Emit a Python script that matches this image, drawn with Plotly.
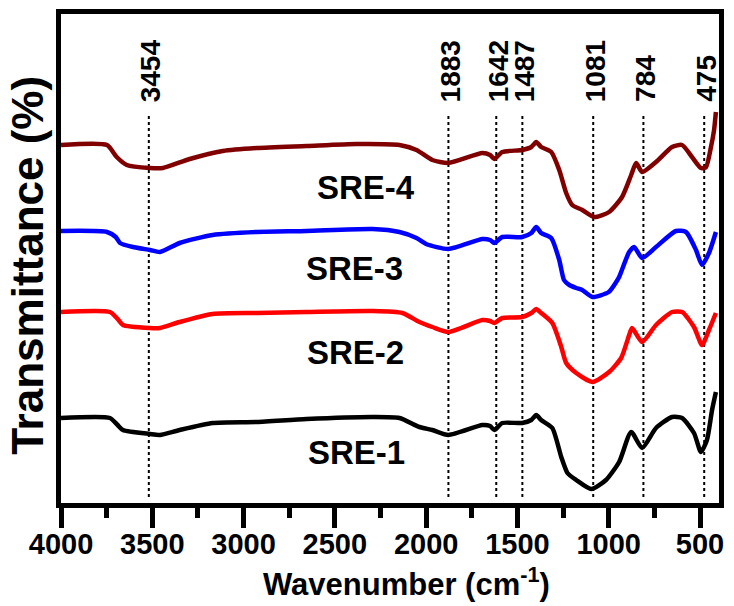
import plotly.graph_objects as go

# ---------------- data ----------------
wn_sre4 = [4000, 3748, 3695, 3640, 3513, 3442, 3295, 3114, 2928, 2655, 2381, 2146, 2053, 1966, 1878,
           1692, 1650, 1627, 1583, 1474, 1424, 1397, 1370, 1315, 1271, 1233, 1200, 1145, 1080, 998,
           927, 877, 850, 817, 741, 653, 598, 544, 495, 467, 440, 423, 413]
t_sre4 = [73.4, 73.4, 71.0, 69.4, 68.8, 68.8, 70.6, 72.2, 72.8, 73.2, 73.6, 73.4, 72.4, 70.4, 69.8,
          71.8, 71.4, 70.6, 72.0, 72.4, 73.0, 74.0, 73.0, 72.0, 68.4, 63.8, 61.4, 60.4, 59.0, 60.0,
          63.0, 67.4, 69.8, 68.0, 70.0, 73.0, 73.4, 71.0, 68.8, 69.0, 73.0, 76.4, 80.0]

wn_sre3 = [4000, 3748, 3700, 3677, 3606, 3513, 3458, 3350, 3169, 2928, 2655, 2294, 2146, 2053, 2000,
           1878, 1692, 1650, 1627, 1583, 1474, 1424, 1397, 1370, 1315, 1271, 1245, 1216, 1178, 1145,
           1089, 1000, 959, 943, 888, 861, 817, 741, 632, 577, 522, 489, 451, 413]
t_sre3 = [56.2, 56.0, 55.0, 53.8, 53.0, 52.4, 52.0, 53.8, 55.4, 56.0, 56.2, 56.6, 56.0, 54.8, 53.6,
          52.6, 54.6, 54.4, 53.8, 55.0, 55.0, 55.8, 57.0, 55.8, 54.8, 50.4, 46.4, 45.4, 44.8, 44.4,
          43.0, 44.0, 46.0, 47.0, 52.0, 53.0, 50.8, 53.0, 56.2, 56.0, 52.4, 49.4, 51.8, 56.0]

wn_sre2 = [4000, 3732, 3690, 3661, 3513, 3458, 3350, 3169, 2928, 2655, 2294, 2130, 2037, 1966, 1878,
           1692, 1650, 1627, 1583, 1474, 1424, 1397, 1370, 1309, 1260, 1233, 1178, 1089, 998, 932,
           888, 872, 817, 741, 653, 598, 533, 489, 451, 413]
t_sre2 = [40.0, 40.0, 38.6, 37.4, 36.8, 36.8, 38.0, 39.6, 39.8, 40.0, 40.2, 39.8, 38.0, 37.0, 36.0,
          38.4, 38.2, 37.8, 38.8, 39.0, 39.8, 40.6, 39.8, 37.8, 33.0, 29.8, 27.8, 26.0, 28.0, 30.8,
          35.4, 36.8, 34.0, 37.4, 40.0, 40.0, 37.0, 33.4, 36.4, 39.8]

wn_sre1 = [4000, 3732, 3690, 3661, 3513, 3458, 3350, 3169, 2928, 2655, 2294, 2146, 2037, 1966, 1878,
           1692, 1650, 1627, 1583, 1474, 1424, 1397, 1370, 1309, 1260, 1226, 1178, 1095, 1015, 943,
           877, 817, 741, 653, 598, 533, 495, 462, 434, 413]
t_sre1 = [18.8, 18.8, 17.4, 16.4, 15.6, 15.4, 16.4, 17.8, 18.0, 18.6, 19.0, 18.8, 17.0, 16.4, 15.4,
          17.4, 17.2, 16.4, 17.8, 17.8, 18.4, 19.4, 18.4, 16.8, 11.0, 7.8, 6.4, 4.6, 6.4, 10.0,
          16.0, 12.8, 16.8, 19.0, 18.8, 15.8, 12.0, 14.4, 20.4, 24.0]

series_names = ["SRE-4", "SRE-3", "SRE-2", "SRE-1"]
series_colors = ["#800000", "#0000FF", "#FF0000", "#000000"]
label_wn = [2327, 2392, 2387, 2381]
label_t = [65.0, 48.8, 32.0, 12.0]

peak_line_wn = [3519, 1878, 1616, 1473, 1085, 810, 477]
peak_labels = ["3454", "1883", "1642", "1487", "1081", "784", "475"]

x_ticks = [4000, 3500, 3000, 2500, 2000, 1500, 1000, 500]

# ---------------- figure ----------------
FONT = "Liberation Sans, Arial, sans-serif"
fig = go.Figure()

line_bottom, line_top = 3.0, 79.5
for xv in peak_line_wn:
    fig.add_trace(go.Scatter(x=[xv, xv], y=[line_bottom, line_top], mode="lines",
                             line=dict(color="black", width=2, dash="dot"),
                             hoverinfo="skip", showlegend=False))

all_x = [wn_sre4, wn_sre3, wn_sre2, wn_sre1]
all_y = [t_sre4, t_sre3, t_sre2, t_sre1]
for xs, ys, name, col in zip(all_x, all_y, series_names, series_colors):
    fig.add_trace(go.Scatter(x=xs, y=ys, mode="lines", name=name,
                             line=dict(color=col, width=4.5, shape="spline", smoothing=0.6),
                             showlegend=False))

for name, xv, yv in zip(series_names, label_wn, label_t):
    fig.add_annotation(x=xv, y=yv, text=name, showarrow=False, xanchor="center", yanchor="middle",
                       font=dict(family=FONT, size=33, color="black", weight="bold"))

for xv, lab in zip(peak_line_wn, peak_labels):
    fig.add_annotation(x=xv, y=81.6, text=lab, showarrow=False, textangle=-90,
                       xanchor="center", yanchor="bottom", xshift=2,
                       font=dict(family=FONT, size=28, color="black", weight="bold"))

# axis titles as annotations
fig.add_annotation(xref="paper", yref="paper", x=0.525, y=0, yshift=-101, yanchor="bottom",
                   text="Wavenumber (cm<sup>-1</sup>)", showarrow=False,
                   font=dict(family=FONT, size=31, color="black", weight="bold"))
fig.add_annotation(xref="paper", yref="paper", x=0, xshift=-33, xanchor="center",
                   y=0.485, yanchor="middle", textangle=-90,
                   text="Transmittance (%)", showarrow=False,
                   font=dict(family=FONT, size=44, color="black", weight="bold"))

fig.update_xaxes(range=[4000, 396], tickvals=x_ticks, ticktext=[str(v) for v in x_ticks],
                 ticks="outside", ticklen=20, tickwidth=5, tickcolor="black",
                 minor=dict(dtick=250, ticks="outside", ticklen=10, tickwidth=5, tickcolor="black"),
                 showline=True, linewidth=5, linecolor="black", mirror=True,
                 showgrid=False, zeroline=False, automargin=False, ticklabelstandoff=-9,
                 tickfont=dict(family=FONT, size=29, color="black", weight="bold"))
fig.update_yaxes(range=[1.8, 99.6], showticklabels=False, ticks="",
                 showline=True, linewidth=5, linecolor="black", mirror=True,
                 showgrid=False, zeroline=False, automargin=False)

fig.update_layout(width=734, height=606, margin=dict(l=61, r=15, t=14, b=103),
                  paper_bgcolor="white", plot_bgcolor="white", showlegend=False)

fig.write_html("out.html", config={"displayModeBar": False},
               post_script="document.body.style.margin='0';document.body.style.overflow='hidden';")
